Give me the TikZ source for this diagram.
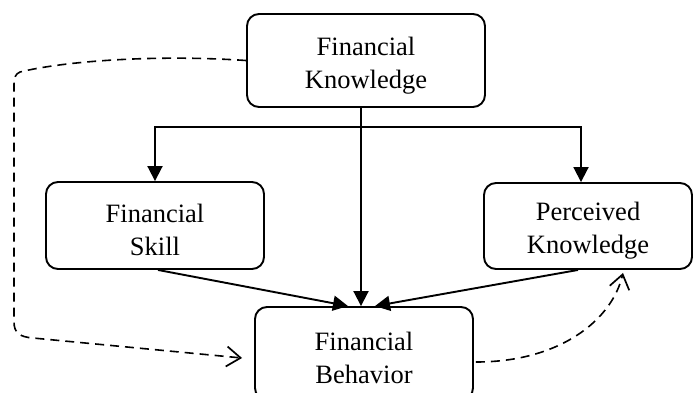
\documentclass[tikz,border=0pt]{standalone}
\usepackage{fontspec}
\setmainfont{Liberation Serif}
\usetikzlibrary{arrows.meta,calc}
\newcommand{\lift}{\rule{0pt}{28pt}}
\tikzset{
  box/.style={draw, line width=1.9pt, rounded corners=12pt, align=center, inner sep=0pt,
    font=\fontsize{26.5}{33}\selectfont},
  arr/.style={line width=1.9pt, -{Triangle[length=15pt,width=15pt]}},
  dasharr/.style={line width=1.6pt, dash pattern=on 9pt off 6pt, -{Straight Barb[length=14pt,width=20pt,line width=1.7pt]}}
}
\begin{document}
\begin{tikzpicture}[x=1pt,y=-1pt]
\useasboundingbox (0,0) rectangle (693,392);
\node[box, minimum width=238pt, minimum height=93pt] (FK) at (366,60.5) {\lift Financial\\Knowledge};
\node[box, minimum width=218pt, minimum height=87pt] (FS) at (155,225.5) {\lift Financial\\Skill};
\node[box, minimum width=208pt, minimum height=86pt] (PK) at (588,226) {\lift Perceived\\Knowledge};
\node[box, minimum width=218pt, minimum height=93pt] (FB) at (364,353.5) {\lift Financial\\Behavior};
\coordinate (J) at (361,127);
% main vertical
\draw[arr] ([xshift=-5pt]FK.south) -- ([xshift=-5pt]FK.south |- FB.north);
% branches
\draw[arr] (J) -| (FS.north);
\draw[arr] (J) -| ([xshift=-7pt]PK.north);
% into behavior
\draw[arr] ([xshift=3pt]FS.south) -- ([xshift=-16pt]FB.north);
\draw[arr] ([xshift=-10pt]PK.south) -- ([xshift=11pt]FB.north);
% dashed
\draw[dasharr] (FK.west) .. controls (150,54) and (60,62) .. (20,72)
  .. controls (15,74) and (14,78) .. (14,86) -- (14,322)
  .. controls (14,333) and (20,337) .. (33,338) -- ($(FB.west)+(-12,4.5)$);
\draw[dasharr] ($(FB.east)+(2,8.5)$) .. controls (560,362) and (612,320) .. ($(PK.south)+(35,3)$);
\end{tikzpicture}
\end{document}
